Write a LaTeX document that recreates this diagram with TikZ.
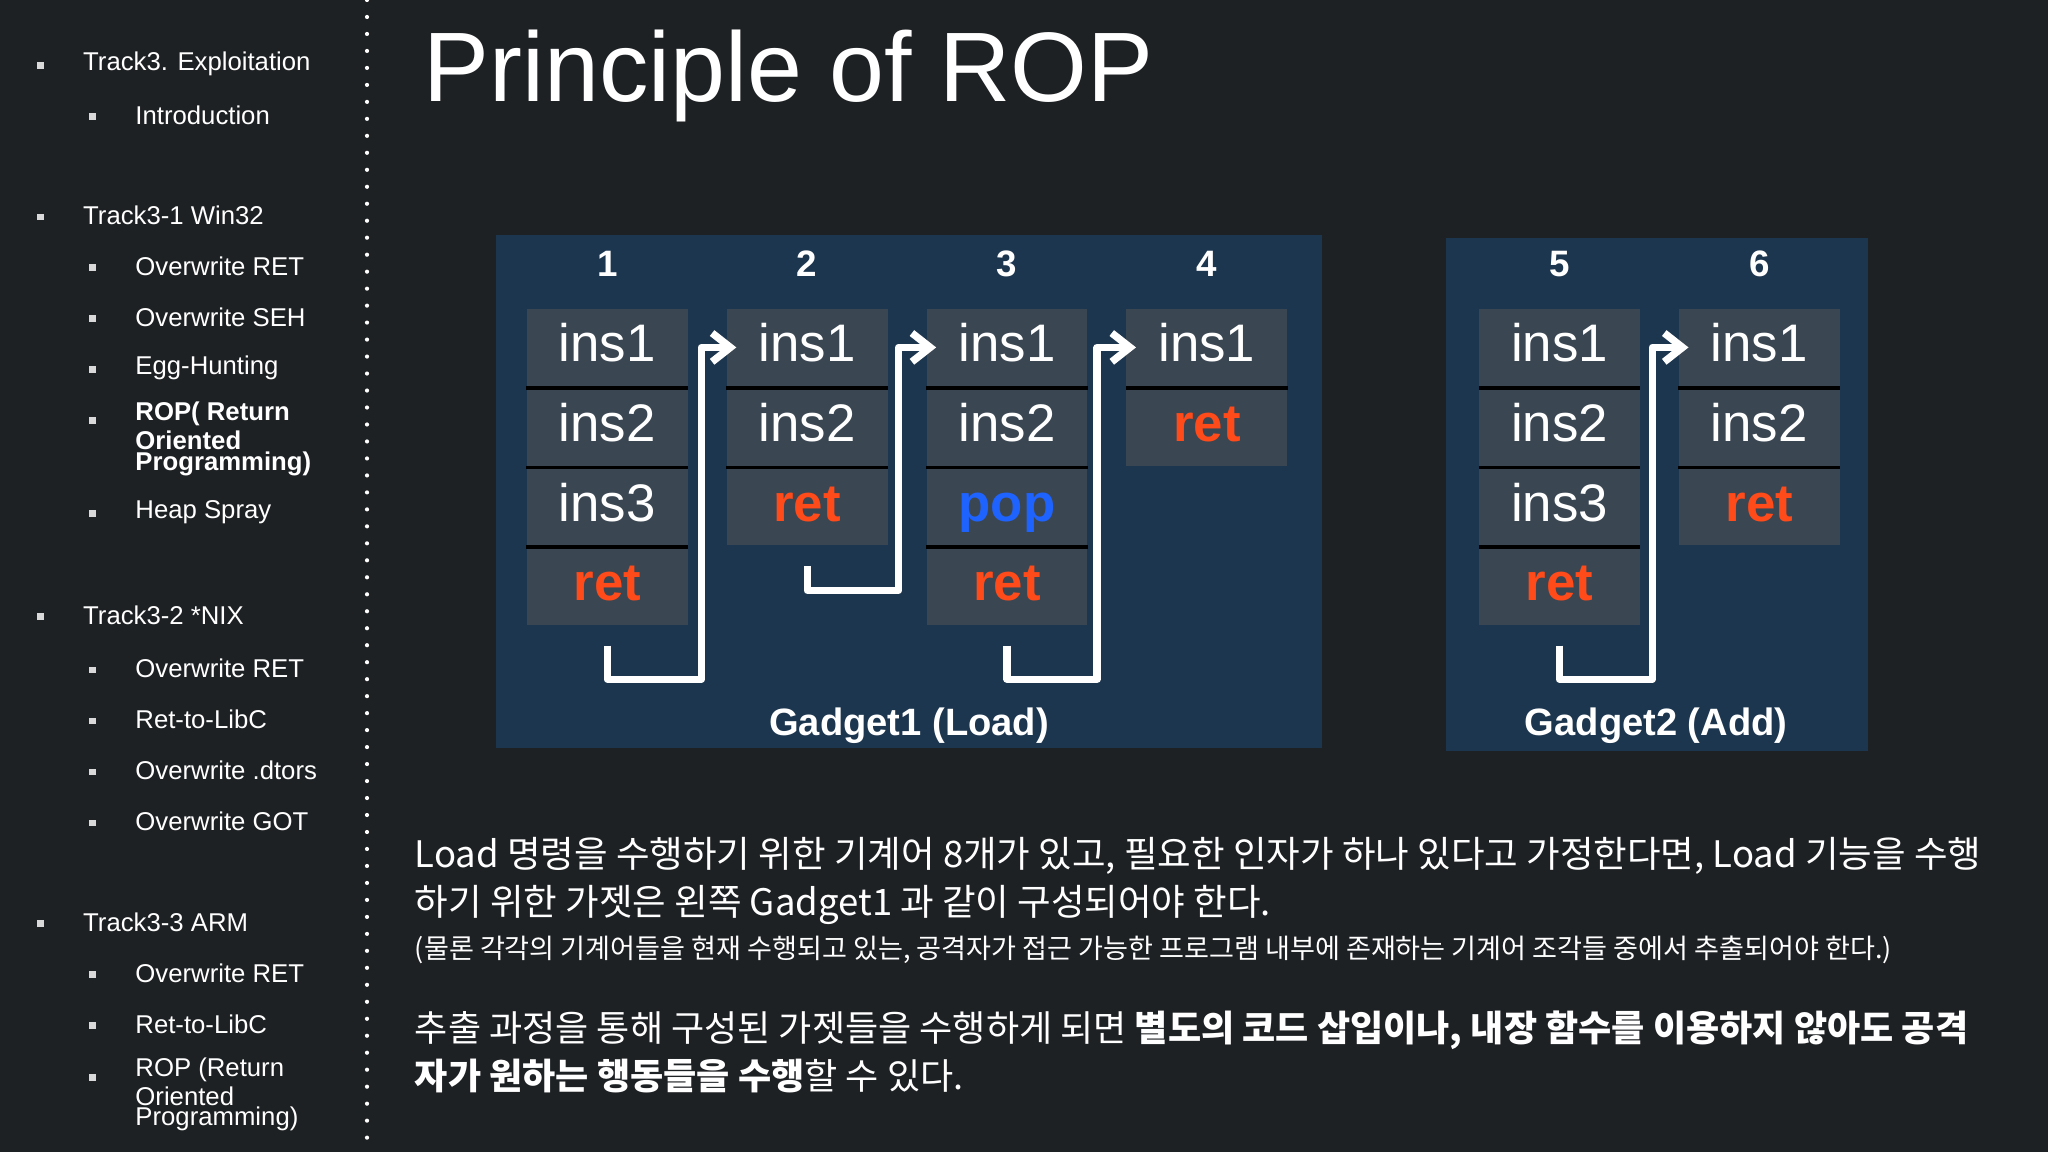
\documentclass[tikz,border=0pt]{standalone}
\usepackage{fontspec}
\setmainfont{Liberation Sans}
\newfontfamily\kr{Noto Sans CJK KR}
\usetikzlibrary{positioning,arrows.meta}
\definecolor{bgc}{HTML}{1E2124}
\definecolor{gbox}{HTML}{1D3A57}
\definecolor{cellc}{HTML}{3A4652}
\definecolor{retc}{HTML}{FF4A1A}
\definecolor{popc}{HTML}{1F63FF}
\tikzset{
  cell/.style={fill=cellc,minimum width=1.23cm,minimum height=0.59cm,inner sep=0pt,text height=0.27cm,text depth=0.05cm,text=white,font=\fontsize{11.5}{12}\selectfont},
  retcell/.style={cell,text=retc,font=\fontsize{11.5}{12}\selectfont\bfseries},
  sep/.style={black,line width=0.8pt},
  num/.style={text=white,font=\fontsize{8}{8}\selectfont\bfseries},
  menu/.style={text=white,anchor=west,font=\fontsize{5.6}{6}\selectfont,inner sep=0pt},
  bul/.style={fill=white!85!black,minimum size=0.05cm,inner sep=0pt},
  jump/.style={white,line width=1.6pt,line join=round,-{Straight Barb[length=0.14cm,width=0.22cm]}},
}
\begin{document}
\begin{tikzpicture}[x=0.01cm,y=-0.01cm]
\fill[bgc] (0,0) rectangle (1568,882);
\useasboundingbox (0,0) rectangle (1568,882);
% sidebar
\foreach \y in {0,13,...,882} \fill[white] (281,\y) circle (1.6);
\foreach \t/\y/\lv in {Track3. Exploitation/49/0,Introduction/88/1,Track3-1 Win32/165/0,Overwrite RET/204/1,Overwrite SEH/243/1,Egg-Hunting/282/1,Heap Spray/392/1,Track3-2 *NIX/471/0,Overwrite RET/512/1,Ret-to-LibC/551/1,Overwrite .dtors/590/1,Overwrite GOT/629/1,Track3-3 ARM/706/0,Overwrite RET/745/1,Ret-to-LibC/784/1}{
  \node[bul] at (31+40*\lv,\y+1) {};
  \node[menu] at (63+40*\lv,\y) {\t};
}
\node[bul] at (71,322) {};
\node[menu,align=left,font=\fontsize{5.6}{4.5}\selectfont\bfseries] at (103,336) {ROP( Return\\Oriented\\Programming)};
\node[bul] at (71,825) {};
\node[menu,align=left,font=\fontsize{5.6}{4.5}\selectfont] at (103,838) {ROP (Return\\Oriented\\Programming)};
% title
\node[text=white,anchor=west,font=\fontsize{21.5}{22}\selectfont] (title) at (312,58) {Principle of ROP};
% gadget boxes
\fill[gbox,opacity=0.85] (380,180) rectangle (1012,573);
\fill[gbox,opacity=0.85] (1107,182) rectangle (1430,575);
% columns
\foreach \c/\x/\n in {a/465/1,b/618/2,c/771/3,d/924/4,e/1194/5,f/1347/6}
  \node[num] (n\c) at (\x,202) {\n};
\node[cell] (a1) at (465,266) {ins1};
\node[cell] (a2) at (465,327) {ins2};
\node[cell] (a3) at (465,388) {ins3};
\node[retcell] (a4) at (465,449) {ret};
\node[cell] (b1) at (618,266) {ins1};
\node[cell] (b2) at (618,327) {ins2};
\node[retcell] (b3) at (618,388) {ret};
\node[cell] (c1) at (771,266) {ins1};
\node[cell] (c2) at (771,327) {ins2};
\node[retcell,text=popc] (c3) at (771,388) {pop};
\node[retcell] (c4) at (771,449) {ret};
\node[cell] (d1) at (924,266) {ins1};
\node[retcell] (d2) at (924,327) {ret};
\node[cell] (e1) at (1194,266) {ins1};
\node[cell] (e2) at (1194,327) {ins2};
\node[cell] (e3) at (1194,388) {ins3};
\node[retcell] (e4) at (1194,449) {ret};
\node[cell] (f1) at (1347,266) {ins1};
\node[cell] (f2) at (1347,327) {ins2};
\node[retcell] (f3) at (1347,388) {ret};
\foreach \x/\ys in {465/{297,358,419},618/{297,358},771/{297,358,419},924/{297},1194/{297,358,419},1347/{297,358}}
  \foreach \y in \ys \draw[sep] (\x-62,\y) -- (\x+62,\y);
% jumps
\coordinate (j1) at (537,520);
\coordinate (j2) at (688,452);
\coordinate (j3) at (840,520);
\coordinate (j4) at (1265,520);
\draw[jump] ([yshift=-0.15cm]a4.south) |- (j1) |- ([xshift=0.08cm]b1.west);
\draw[jump] ([yshift=-0.15cm]b3.south) |- (j2) |- ([xshift=0.08cm]c1.west);
\draw[jump] ([yshift=-0.15cm]c4.south) |- (j3) |- ([xshift=0.08cm]d1.west);
\draw[jump] ([yshift=-0.15cm]e4.south) |- (j4) |- ([xshift=0.08cm]f1.west);
\node[text=white,font=\fontsize{8.3}{8.5}\selectfont\bfseries] (g1) at (696,556) {Gadget1 (Load)};
\node[text=white,font=\fontsize{8.3}{8.5}\selectfont\bfseries] (g2) at (1268,556) {Gadget2 (Add)};
% text
\node[text=white,anchor=north west,align=left,inner sep=0pt,font=\kr\fontsize{7.95}{10.6}\selectfont] (t1) at (317,640)
  {Load 명령을 수행하기 위한 기계어 8개가 있고, 필요한 인자가 하나 있다고 가정한다면, Load 기능을 수행\\하기 위한 가젯은 왼쪽 Gadget1 과 같이 구성되어야 한다.};
\node[text=white,anchor=north west,inner sep=0pt,font=\kr\fontsize{5.9}{6}\selectfont] (t2) at (317,716)
  {(물론 각각의 기계어들을 현재 수행되고 있는, 공격자가 접근 가능한 프로그램 내부에 존재하는 기계어 조각들 중에서 추출되어야 한다.)};
\node[text=white,anchor=north west,align=left,inner sep=0pt,font=\kr\fontsize{7.85}{10.6}\selectfont] (t3) at (317,773)
  {추출 과정을 통해 구성된 가젯들을 수행하게 되면 \textbf{별도의 코드 삽입이나, 내장 함수를 이용하지 않아도 공격}\\\textbf{자가 원하는 행동들을 수행}할 수 있다.};
\end{tikzpicture}
\end{document}
